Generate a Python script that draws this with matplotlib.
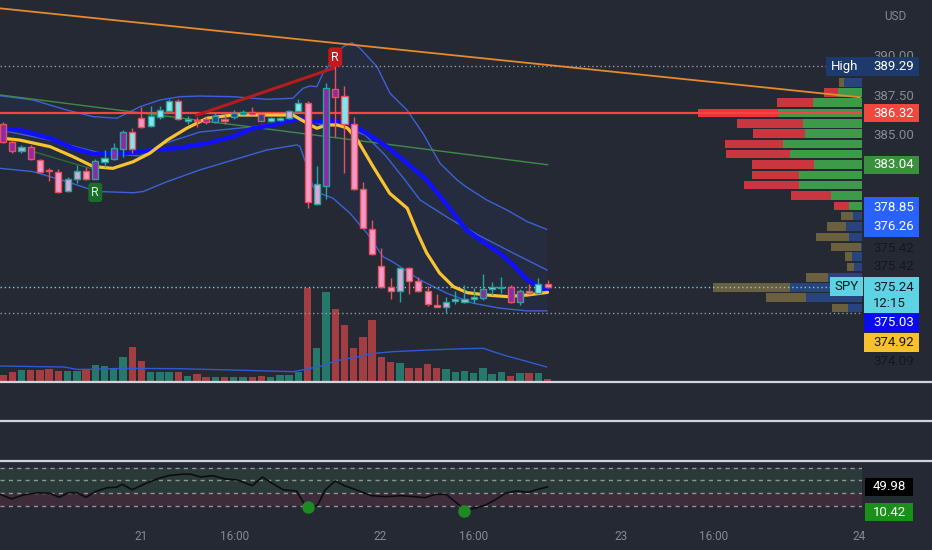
import matplotlib
matplotlib.use("Agg")
import matplotlib.pyplot as plt
import matplotlib.transforms as mtransforms
from matplotlib.patches import Rectangle
from matplotlib.lines import Line2D
import numpy as np

plt.rcParams["font.family"] = ["Roboto", "DejaVu Sans"]

# ---------------- data ----------------
opens = [385.61, 384.51, 383.93, 384.19, 383.34, 382.71, 382.58, 381.39, 382.13, 382.66,
         382.13, 383.23, 383.39, 384.04, 385.10, 386.00, 385.52, 386.10, 386.48, 387.11,
         385.82, 385.86, 385.97, 385.78, 385.92, 386.06, 386.27, 386.42, 386.27, 385.84,
         385.89, 386.00, 386.48, 386.99, 380.54, 381.69, 387.86, 387.41, 385.63, 381.48,
         378.93, 376.62, 375.24, 375.01, 376.49, 375.66, 375.03, 374.12, 374.01, 374.37,
         374.33, 374.50, 374.58, 375.12, 375.18, 375.24, 374.33, 375.03, 374.90, 375.43]
highs = [385.78, 384.61, 384.30, 384.30, 383.41, 382.81, 382.75, 382.28, 383.02, 382.88,
         383.39, 383.98, 384.40, 385.25, 385.36, 386.70, 386.78, 386.78, 387.20, 387.20,
         386.14, 386.10, 386.08, 386.31, 386.21, 386.52, 386.49, 386.73, 386.33, 386.08,
         386.08, 386.52, 387.20, 387.11, 382.96, 388.26, 389.29, 388.05, 386.10, 381.96,
         379.53, 377.73, 375.84, 376.47, 376.55, 375.88, 375.33, 374.82, 374.63, 375.03,
         375.39, 375.18, 376.09, 375.60, 375.92, 375.39, 375.12, 375.45, 375.82, 375.71]
lows = [384.44, 383.81, 383.77, 383.34, 382.50, 382.01, 381.22, 381.33, 381.86, 382.07,
        382.11, 382.92, 383.34, 383.55, 383.77, 385.36, 385.46, 385.93, 386.46, 385.89,
        385.61, 385.44, 385.63, 385.72, 385.63, 385.93, 386.21, 386.21, 385.82, 385.74,
        385.80, 385.95, 386.42, 380.27, 380.48, 380.84, 384.82, 382.50, 381.43, 378.99,
        377.30, 375.20, 374.50, 374.33, 374.82, 374.93, 374.05, 374.00, 373.59, 374.18,
        374.23, 374.23, 374.44, 374.75, 374.86, 374.26, 374.12, 374.82, 374.82, 375.22]
closes = [384.51, 383.92, 384.19, 383.39, 382.56, 382.64, 381.33, 382.13, 382.66, 382.13,
          383.28, 383.45, 384.13, 385.10, 384.04, 385.46, 386.14, 386.52, 387.11, 385.93,
          385.93, 385.79, 385.78, 386.14, 385.82, 386.31, 386.42, 386.27, 385.84, 386.00,
          386.00, 386.48, 386.99, 380.69, 381.82, 387.90, 387.37, 385.63, 381.50, 379.00,
          377.36, 375.24, 375.01, 376.45, 375.64, 375.01, 374.16, 374.01, 374.33, 374.48,
          374.50, 374.61, 375.12, 375.24, 375.24, 374.33, 375.03, 374.90, 375.43, 375.24]
body_style = ["purple", "purple", "grey", "purple", "pink", "pink", "pink", "lav", "lav", "pink",
              "purple", "cyan", "purple", "purple", "cyan", "pink", "cyan", "cyan", "cyan", "cyan",
              "cyan", "pink", "purple", "navy", "pink", "navy", "navy", "navy", "navy", "cyan",
              "cyan", "lav", "cyan", "pink", "lav", "purple", "purple", "cyan", "pink", "pink",
              "pink", "pink", "pink", "lav", "pink", "pink", "pink", "pink", "lav", "cyan",
              "lav", "cyan", "purple", "cyan", "cyan", "purple", "purple", "pink", "cyan", "pink"]
volumes = [17, 27, 33, 33, 33, 36, 30, 30, 30, 35, 47, 44, 40, 72, 103, 59, 27, 27, 27, 26,
           15, 22, 12, 12, 12, 12, 12, 12, 15, 12, 19, 19, 28, 280, 100, 268, 215, 167, 100, 132,
           183, 72, 58, 54, 40, 40, 50, 40, 36, 27, 30, 23, 40, 20, 26, 16, 23, 23, 23, 7]

vol_ma_x = [-0.3, 6.6, 8.0, 9.4, 13.2, 19.0, 24.8, 31.4, 32.2, 33.3, 34.5, 35.5, 36.8, 38.4,
            39.9, 42.2, 46.1, 50.0, 52.1, 53.1, 54.6, 56.6, 58.9]
vol_ma = [45, 42, 35, 35, 38, 37, 33, 28, 32, 38, 45, 55, 65, 72, 82, 88, 93, 97, 98, 88, 75, 60, 42]

ema_fast_x = [-0.3, 1.8, 5.1, 7.6, 9.8, 11.9, 14.1, 15.9, 17.8, 19.9, 22.1, 24.9, 28.6, 31.4, 33.3,
              34.0, 35.1, 36.2, 37.3, 38.4, 40.1, 41.9, 43.8, 44.9, 45.9, 47.3, 48.8, 50.3, 52.4,
              54.6, 56.8, 59.0]
ema_fast = [384.74, 384.61, 384.19, 383.55, 382.92, 382.81, 383.23, 383.77, 384.61, 385.36, 386.00,
            386.20, 386.20, 386.20, 385.57, 385.36, 385.57, 385.57, 385.38, 384.61, 382.92, 381.22,
            380.27, 378.70, 377.43, 376.15, 375.28, 374.90, 374.75, 374.65, 374.75, 374.92]
ema_slow_x = [-0.3, 1.8, 5.1, 7.6, 9.8, 11.9, 14.1, 16.3, 19.2, 22.1, 24.9, 27.1, 29.3, 31.4, 32.2,
              33.3, 35.8, 36.8, 37.9, 39.4, 41.6, 43.8, 45.9, 48.1, 50.2, 51.7, 53.8, 55.3, 56.8,
              58.2, 59.0]
ema_slow = [385.36, 385.25, 384.72, 384.09, 383.72, 383.72, 383.81, 383.98, 384.12, 384.40, 384.82,
            385.36, 385.57, 385.89, 386.00, 385.78, 385.84, 385.78, 385.57, 385.04, 384.19, 383.13,
            382.07, 380.48, 378.89, 378.25, 377.43, 376.66, 375.71, 375.26, 375.10]

bb_up_x = [-0.33, 3.25, 6.93, 9.75, 12.35, 14.84, 17.0, 19.18, 21.34, 24.9, 28.6, 31.4, 32.5, 33.26,
           34.0, 34.67, 35.75, 36.84, 37.81, 38.68, 40.52, 41.93, 43.77, 45.5, 47.35, 49.2, 50.16,
           52.4, 54.6, 56.8, 58.9]
bb_up = [387.43, 387.16, 386.52, 386.10, 386.00, 386.73, 387.16, 387.37, 387.41, 387.37, 387.20,
         387.27, 387.90, 388.05, 388.01, 388.86, 389.70, 390.55, 390.80, 390.45, 389.28, 387.59,
         386.52, 385.04, 383.13, 382.07, 381.64, 380.80, 380.16, 379.42, 378.93]
bb_mid_x = [-0.33, 5.09, 10.51, 14.84, 17.0, 21.34, 26.76, 31.85, 34.34, 37.05, 39.22, 41.39, 43.55,
            45.18, 48.43, 51.68, 55.25, 58.94]
bb_mid = [385.25, 384.61, 383.79, 383.60, 384.30, 385.12, 385.44, 385.89, 385.63, 385.44, 384.93,
          383.66, 382.07, 380.80, 379.59, 378.51, 377.43, 376.34]
bb_lo_x = [-0.33, 3.25, 6.93, 9.1, 10.51, 14.08, 15.17, 17.77, 21.34, 24.92, 28.6, 31.85, 32.18,
           32.94, 33.59, 34.34, 35.75, 37.6, 39.44, 41.17, 42.25, 45.18, 48.1, 50.92, 53.85, 56.77,
           58.94]
bb_lo = [382.81, 382.60, 381.96, 381.54, 381.33, 381.26, 381.33, 381.96, 382.71, 383.34, 383.98,
         384.30, 384.19, 382.92, 381.64, 381.22, 380.91, 379.95, 378.68, 377.19, 376.85, 375.71,
         374.86, 374.23, 373.91, 373.74, 373.74]

orange_x, orange_y = [-0.33, 92.85], [392.99, 387.33]
reg_x, reg_y = [-0.33, 59.0], [387.48, 383.04]
reg2_x, reg2_y = [3.3, 9.8], [383.87, 382.75]
red_trend_x, red_trend_y = [21.0, 35.8], [386.20, 389.18]
poc_price = 386.32
sig_red_idx, sig_green_idx = 36, 10

prof_price = [388.27, 387.64, 387.00, 386.33, 385.66, 385.03, 384.36, 383.72, 383.06, 382.39, 381.75,
              381.08, 380.42, 379.78, 379.11, 378.44, 377.81, 377.20, 376.54, 375.87, 375.23, 374.60,
              373.93]
prof_dn = [5.3, 14, 35.7, 80, 65.7, 52.3, 58.3, 63.3, 62, 46.7, 54.7, 40.7, 15, 11.7, 19.3, 32.7, 30,
           6.7, 6.7, 21.7, 76.7, 40, 16]
prof_up = [18, 24, 49, 84, 59, 56.7, 79, 72.3, 48, 63.3, 63.3, 30.7, 13, 9, 15.7, 13, 0.7, 10, 8, 34,
           72.3, 55.7, 14]
va_high, va_low = 387.64, 380.42

rsi_x = [-0.3, 0.9, 2.2, 3.8, 5.1, 6.1, 7.1, 8.0, 9.0, 10.0, 11.3, 12.3, 12.9, 14.0, 15.4, 16.7,
         17.9, 19.6, 20.4, 21.4, 22.7, 24.1, 25.4, 27.0, 28.1, 29.1, 30.4, 31.8, 32.6, 33.3, 34.1,
         34.9, 36.0, 37.0, 38.6, 39.9, 41.5, 43.2, 44.5, 45.7, 46.9, 48.0, 49.2, 50.05, 51.1, 52.3,
         53.6, 54.4, 55.6, 56.9, 57.7, 59.0]
rsi = [38.3, 31.0, 37.2, 40.8, 39.9, 33.6, 40.8, 40.8, 33.6, 42.4, 48.7, 49.3, 54.0, 45.5, 54.9, 62.3,
       67.5, 70.1, 69.6, 65.4, 67.5, 62.3, 60.7, 51.8, 65.4, 56.0, 45.1, 43.5, 24.2, 16.4, 21.6, 45.1,
       59.2, 51.8, 43.5, 36.1, 34.6, 36.1, 34.6, 33.0, 38.3, 38.3, 24.2, 13.7, 16.4, 21.6, 32.0, 39.9,
       43.5, 41.5, 45.1, 49.98]
rsi_dot_x, rsi_dot = [33.0, 50.0], [19.0, 12.0]
rsi_levels = [80, 60, 40, 20]
rsi_other = 10.42

time_ticks = [14.95, 25.1, 40.9, 51.0, 67.0, 77.0, 92.7]
time_labels = ["21", "16:00", "22", "16:00", "23", "16:00", "24"]
price_ticks = [385, 387.5, 390]

# ---------------- style ----------------
BG = "#252934"
GRID_TXT = "#868993"
UP_EDGE, DN_EDGE = "#26a69a", "#e8505b"
FILLS = {"pink": "#f19ac9", "cyan": "#84e4ee", "purple": "#8e2aa8",
         "navy": "#1d4b9b", "lav": "#d6a9d8", "grey": "#a8b6d8"}
W, H = 932, 550
PLOT_W, MAIN_H = 862, 381

fig = plt.figure(figsize=(W / 100, H / 100), dpi=100, facecolor=BG)
ax = fig.add_axes([0, 1 - MAIN_H / H, PLOT_W / W, MAIN_H / H])
ax_v = ax.twinx()
ax_p = ax.twiny()
for a in (ax, ax_v, ax_p):
    a.patch.set_visible(False)
    for s in a.spines.values():
        s.set_visible(False)
ax_v.set_zorder(1)
ax_p.set_zorder(2)
ax.set_zorder(3)

ax.set_xlim(-0.325, 93.07)
ax.set_ylim(369.28, 393.52)

o = np.array(opens); c = np.array(closes)
idx = np.arange(len(o))
up = c >= o
edge = np.where(up, UP_EDGE, DN_EDGE)

# volume
ax_v.bar(idx, volumes, width=0.8, color=np.where(up, "#26786a", "#a23d42"), zorder=1)
ax_v.plot(vol_ma_x, vol_ma, color="#2f5ad3", lw=1)
ax_v.set_ylim(0, max(volumes) * MAIN_H / 93.3)
ax_v.yaxis.set_visible(False)

# volume profile (right side, growing leftwards)
ax_p.set_xlim(PLOT_W, 0)
ax_p.xaxis.set_visible(False)
poc_row = int(np.argmax(np.add(prof_up, prof_dn)))
for k, p in enumerate(prof_price):
    inside = va_low - 0.1 <= p <= va_high + 0.1
    cu = "#3c9a48" if inside else "#27447c"
    cd = "#c9363f" if inside else "#6a6040"
    if k == poc_row:
        cd = "#f0313b"
    ax_p.barh(p, prof_up[k], height=0.54, color=cu, lw=0)
    ax_p.barh(p, prof_dn[k], left=prof_up[k], height=0.54, color=cd, lw=0)

# bollinger band fill + lines
ax.fill(np.r_[bb_up_x, bb_lo_x[::-1]], np.r_[bb_up, bb_lo[::-1]], color="#3a5fd0", alpha=0.07, lw=0, zorder=1)
for bx, by in ((bb_up_x, bb_up), (bb_mid_x, bb_mid), (bb_lo_x, bb_lo)):
    ax.plot(bx, by, color="#3a62d6", lw=1, zorder=2)

ax.plot(reg_x, reg_y, color="#3f8a45", lw=1, zorder=2)
ax.plot(reg2_x, reg2_y, color="#2e6b35", lw=1, zorder=2)
ax.axhline(poc_price, color="#f2473f", lw=1.6, zorder=2)
ax.plot(orange_x, orange_y, color="#e8892b", lw=1.3, zorder=6)
ax.plot(red_trend_x, red_trend_y, color="#b71c1c", lw=2.2, zorder=3)

hi, lo, last = max(highs), min(lows), closes[-1]
ax.plot([-0.325, 89.2], [hi, hi], color="#9598a1", lw=1, ls=(0, (1, 2)), zorder=2)
ax.plot([-0.325, 89.6], [last, last], color="#5ed3e3", lw=1, ls=(0, (1, 2)), zorder=2)
ax.axhline(lo, color="#9598a1", lw=1, ls=(0, (1, 2)), zorder=2)

ax.plot(ema_slow_x, ema_slow, color="#1010ff", lw=3.2, zorder=3, solid_capstyle="round")
ax.plot(ema_fast_x, ema_fast, color="#f7c331", lw=2.3, zorder=3, solid_capstyle="round")

# candles
ax.vlines(idx, lows, highs, colors=edge, lw=1, zorder=4)
ax.bar(idx, np.maximum(np.abs(c - o), 0.03), bottom=np.minimum(o, c), width=0.66,
       color=[FILLS[s] for s in body_style], edgecolor=edge, lw=1, zorder=5)

# signal labels
ax.text(sig_red_idx, highs[sig_red_idx] + 0.6, "R", color="white", fontsize=9, ha="center", va="center",
        zorder=7, bbox=dict(boxstyle="round,pad=0.25", fc="#c8161d", ec="none"))
ax.text(sig_green_idx, lows[sig_green_idx] - 0.83, "R", color="#d8f0d8", fontsize=9, ha="center", va="center",
        zorder=7, bbox=dict(boxstyle="round,pad=0.25", fc="#1b6e2a", ec="none"))

# price axis
ax.yaxis.tick_right()
ax.set_yticks(price_ticks, [f"{v:.2f}" for v in price_ticks])
ax.tick_params(axis="y", length=0, pad=8, labelsize=9.5, labelcolor=GRID_TXT)
ax.tick_params(axis="x", length=0, labelbottom=False)

tr = mtransforms.blended_transform_factory(ax.transAxes, ax.transData)


def tag(y, text, face, color, x0=864, x1=919, h=1.15, ty=None, tx=873, ha="left"):
    if face is not None:
        ax.add_patch(Rectangle((x0 / PLOT_W, y - h / 2), (x1 - x0) / PLOT_W, h, transform=tr,
                               facecolor=face, edgecolor="none", clip_on=False, zorder=10))
    ax.text(tx / PLOT_W, y if ty is None else ty, text, transform=tr, color=color, fontsize=9.5,
            ha=ha, va="center", clip_on=False, zorder=11)


tag(hi, "High", "#1d3a6c", "white", x0=826, x1=864, tx=845, ha="center")
tag(hi, f"{hi:.2f}", "#1d3a6c", "white")
tag(poc_price, f"{poc_price:.2f}", "#f2473f", "white")
tag(reg_y[-1], f"{reg_y[-1]:.2f}", "#3b8f3f", "white")
ax.add_patch(Rectangle((864 / PLOT_W, 378.44), 55 / PLOT_W, 2.55, transform=tr, facecolor="#2962ff",
                       edgecolor="none", clip_on=False, zorder=10))
tag(380.35, "378.85", None, "white")
tag(379.08, "376.26", None, "white")
tag(377.74, "375.42", None, "#151820")
tag(376.54, "375.42", None, "#151820")
ax.add_patch(Rectangle((830 / PLOT_W, 374.70), 33 / PLOT_W, 1.20, transform=tr, facecolor="#5ed3e3",
                       edgecolor="none", clip_on=False, zorder=10))
ax.text(846.5 / PLOT_W, 375.30, "SPY", transform=tr, color="#131722", fontsize=9.5, ha="center",
        va="center", clip_on=False, zorder=11)
ax.add_patch(Rectangle((864 / PLOT_W, 373.61), 55 / PLOT_W, 2.29, transform=tr, facecolor="#5ed3e3",
                       edgecolor="none", clip_on=False, zorder=10))
tag(375.26, f"{last:.2f}", None, "#131722")
tag(374.18, "12:15", None, "#131722")
tag(373.00, f"{ema_slow[-1] - 0.07:.2f}", "#0b0bf0", "white")
tag(371.73, f"{ema_fast[-1]:.2f}", "#f9c02e", "#131722")
tag(370.49, "374.09", None, "#151820")

fig.text(884 / W, 1 - 17 / H, "USD", color=GRID_TXT, fontsize=8.5, ha="left", va="center")

# ---------------- oscillator pane ----------------
ax_r = fig.add_axes([0, 1 - 522 / H, PLOT_W / W, 60 / H], sharex=ax)
ax_r.patch.set_visible(False)
for s in ax_r.spines.values():
    s.set_visible(False)
ax_r.set_ylim(-5.1, 88.9)
ax_r.axhspan(40, 80, color="#2a3a39", lw=0, zorder=0)
ax_r.axhspan(20, 40, color="#3e2c3b", lw=0, zorder=0)
for lv in rsi_levels:
    ax_r.axhline(lv, color="#8f939c", lw=1, dashes=(3, 3), zorder=1)
ax_r.plot(rsi_x, rsi, color="#0d0d10", lw=1.2, zorder=3)
ax_r.plot(rsi_dot_x, rsi_dot, "o", ms=8, color="#1d8a22", zorder=4)
ax_r.set_yticks([])
ax_r.set_xticks(time_ticks, time_labels)
ax_r.tick_params(axis="x", length=0, pad=6, labelsize=8.5, labelcolor=GRID_TXT)

trr = mtransforms.blended_transform_factory(ax_r.transAxes, ax_r.transData)
for val, face in ((rsi[-1], "#000000"), (rsi_other, "#1a8f1a")):
    ax_r.add_patch(Rectangle((865 / PLOT_W, val - 14), 48 / PLOT_W, 28, transform=trr, facecolor=face,
                             edgecolor="none", clip_on=False, zorder=10))
    ax_r.text(889 / PLOT_W, val, f"{val:.2f}", transform=trr, color="white", fontsize=9.5, ha="center",
              va="center", clip_on=False, zorder=11)

# pane separators
for yp in (382, 421, 461):
    fig.add_artist(Line2D([0, 1], [1 - yp / H] * 2, transform=fig.transFigure, color="#d1d4dc", lw=1.6))

fig.savefig("out.png", dpi=100, facecolor=BG)
